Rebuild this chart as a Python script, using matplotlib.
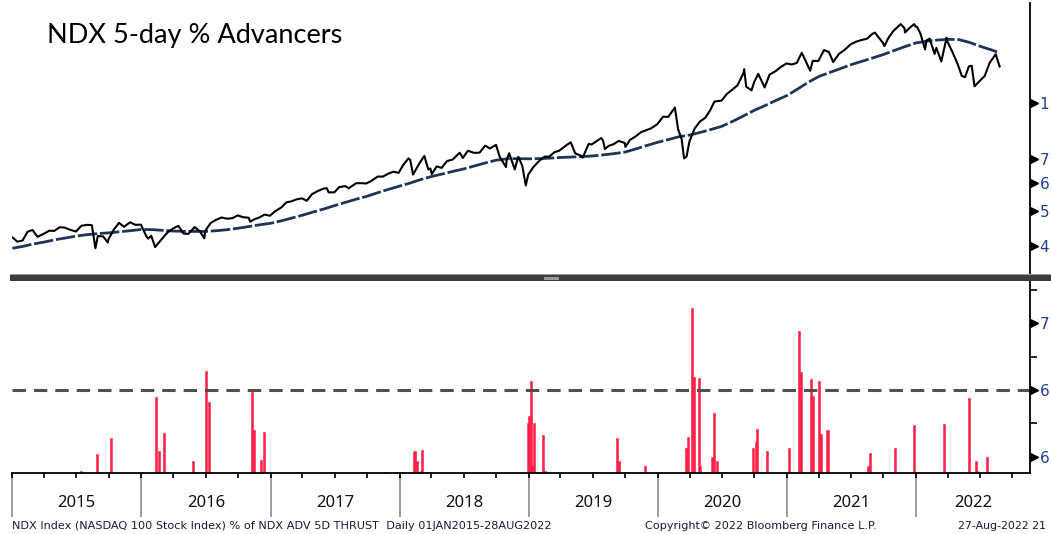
import matplotlib.pyplot as plt
import matplotlib.dates as mdates
import pandas as pd
from matplotlib.patches import Rectangle

# NDX close (approx.)
px_dates = [
    '2015-01-02', '2015-01-15', '2015-01-30', '2015-02-13', '2015-02-27', '2015-03-13', '2015-03-31',
    '2015-04-15', '2015-04-30', '2015-05-15', '2015-05-29', '2015-06-15', '2015-06-30', '2015-07-15',
    '2015-07-31', '2015-08-14', '2015-08-24', '2015-08-31', '2015-09-15', '2015-09-28', '2015-09-30',
    '2015-10-15', '2015-10-30', '2015-11-13', '2015-11-30', '2015-12-15', '2015-12-31',
    '2016-01-15', '2016-01-20', '2016-01-29', '2016-02-09', '2016-02-29', '2016-03-15', '2016-03-31',
    '2016-04-15', '2016-04-29', '2016-05-13', '2016-05-31', '2016-06-15', '2016-06-27', '2016-06-30',
    '2016-07-15', '2016-07-29', '2016-08-15', '2016-08-31', '2016-09-15', '2016-09-30', '2016-10-14',
    '2016-10-31', '2016-11-04', '2016-11-15', '2016-11-30', '2016-12-15', '2016-12-30',
    '2017-01-13', '2017-01-31', '2017-02-15', '2017-02-28', '2017-03-15', '2017-03-31', '2017-04-13',
    '2017-04-28', '2017-05-15', '2017-05-31', '2017-06-09', '2017-06-14', '2017-06-30', '2017-07-14',
    '2017-07-31', '2017-08-10', '2017-08-31', '2017-09-15', '2017-09-29', '2017-10-13', '2017-10-31',
    '2017-11-15', '2017-11-30', '2017-12-15', '2017-12-29',
    '2018-01-12', '2018-01-26', '2018-01-31', '2018-02-08', '2018-02-28', '2018-03-12', '2018-03-23',
    '2018-03-29', '2018-04-02', '2018-04-16', '2018-04-30', '2018-05-15', '2018-05-31', '2018-06-20',
    '2018-06-29', '2018-07-13', '2018-07-31', '2018-08-15', '2018-08-31', '2018-09-14', '2018-09-28',
    '2018-10-01', '2018-10-11', '2018-10-29', '2018-10-31', '2018-11-07', '2018-11-23', '2018-11-30',
    '2018-12-03', '2018-12-14', '2018-12-24', '2018-12-31',
    '2019-01-15', '2019-01-31', '2019-02-15', '2019-02-28', '2019-03-15', '2019-03-29', '2019-04-15',
    '2019-04-30', '2019-05-13', '2019-05-31', '2019-06-03', '2019-06-20', '2019-06-28', '2019-07-26',
    '2019-07-31', '2019-08-05', '2019-08-15', '2019-08-30', '2019-09-13', '2019-09-30', '2019-10-02',
    '2019-10-15', '2019-10-31', '2019-11-15', '2019-11-29', '2019-12-13', '2019-12-31',
    '2020-01-17', '2020-01-31', '2020-02-19', '2020-02-28', '2020-03-09', '2020-03-16', '2020-03-23',
    '2020-03-31', '2020-04-15', '2020-04-30', '2020-05-15', '2020-05-29', '2020-06-10', '2020-06-30',
    '2020-07-15', '2020-07-31', '2020-08-14', '2020-08-31', '2020-09-02', '2020-09-08', '2020-09-23',
    '2020-09-30', '2020-10-12', '2020-10-30', '2020-11-13', '2020-11-30', '2020-12-15', '2020-12-31',
    '2021-01-15', '2021-01-29', '2021-02-12', '2021-02-26', '2021-03-08', '2021-03-15', '2021-03-31',
    '2021-04-16', '2021-04-30', '2021-05-12', '2021-05-28', '2021-06-15', '2021-06-30', '2021-07-15',
    '2021-07-30', '2021-08-16', '2021-08-31', '2021-09-07', '2021-09-30', '2021-10-04', '2021-10-15',
    '2021-10-29', '2021-11-19', '2021-11-30', '2021-12-01', '2021-12-15', '2021-12-27', '2021-12-31',
    '2022-01-04', '2022-01-14', '2022-01-27', '2022-01-31', '2022-02-09', '2022-02-23', '2022-02-28',
    '2022-03-14', '2022-03-29', '2022-03-31', '2022-04-14', '2022-04-29', '2022-05-11', '2022-05-20',
    '2022-05-31', '2022-06-08', '2022-06-16', '2022-06-30', '2022-07-15', '2022-07-29', '2022-08-15',
    '2022-08-26',
]
px_close = [
    4230, 4120, 4151, 4390, 4441, 4250, 4334,
    4420, 4415, 4520, 4508, 4440, 4397, 4560,
    4588, 4580, 3950, 4274, 4260, 4100, 4182,
    4450, 4648, 4530, 4665, 4590, 4593,
    4270, 4200, 4279, 3980, 4202, 4370, 4484,
    4560, 4341, 4330, 4523, 4400, 4210, 4418,
    4640, 4730, 4810, 4771, 4790, 4875, 4820,
    4801, 4680, 4750, 4810, 4900, 4864,
    5000, 5128, 5300, 5330, 5400, 5436, 5350,
    5584, 5700, 5788, 5800, 5650, 5647, 5840,
    5880, 5800, 5988, 5990, 5979, 6080, 6248,
    6250, 6367, 6450, 6397,
    6750, 7022, 6950, 6330, 6854, 7130, 6540,
    6581, 6350, 6670, 6606, 6900, 6967, 7280,
    7040, 7370, 7272, 7280, 7614, 7480, 7627,
    7650, 7100, 6640, 6967, 7250, 6540, 6949,
    7090, 6700, 5900, 6330,
    6650, 6906, 7100, 7097, 7300, 7378, 7600,
    7781, 7250, 7127, 7050, 7700, 7672, 8000,
    7848, 7450, 7600, 7692, 7850, 7750, 7550,
    7900, 8083, 8300, 8404, 8500, 8733,
    9170, 9150, 9718, 8462, 7950, 7020, 7100,
    7813, 8500, 8890, 9100, 9555, 10100, 10157,
    10600, 10905, 11200, 12111, 12420, 11100, 10850,
    11418, 12060, 11052, 12000, 12268, 12600, 12888,
    12800, 12925, 13800, 12909, 12300, 13100, 13091,
    14040, 13861, 13000, 13687, 14100, 14555, 14800,
    14959, 15100, 15582, 15700, 14690, 14400, 15150,
    15850, 16573, 16135, 15700, 16200, 16570, 16320,
    16300, 15600, 14100, 14930, 15100, 13700, 14237,
    13050, 15200, 14839, 13900, 12855, 11900, 11800,
    12643, 12700, 11130, 11504, 11900, 12947, 13670,
    12640,
]

# 200-day moving average, first of each month
ma_dates = list(pd.date_range('2015-01-01', '2022-08-01', freq='MS')) + [pd.Timestamp('2022-08-26')]
ma_vals = [
    3950, 4000, 4060, 4110, 4170, 4220, 4270, 4310, 4340, 4360, 4390, 4420,
    4455, 4450, 4430, 4410, 4400, 4400, 4400, 4420, 4450, 4490, 4540, 4590,
    4635, 4710, 4790, 4880, 4980, 5080, 5190, 5300, 5410, 5510, 5640, 5760,
    5880, 6000, 6130, 6250, 6350, 6460, 6560, 6690, 6820, 6940, 7000, 7010,
    7000, 7010, 7030, 7060, 7080, 7100, 7130, 7180, 7240, 7310, 7460, 7620,
    7780, 7920, 8060, 8150, 8290, 8450, 8620, 8900, 9220, 9550, 9850, 10170,
    10490, 10950, 11400, 11850, 12150, 12460, 12780, 13060, 13350, 13640, 14000, 14350,
    14690, 14860, 14960, 15030, 15020, 14750, 14390, 14070, 13800,
]

# 5-day thrust readings (only the days that show a bar)
bar_dates = [
    '2015-07-14', '2015-08-28', '2015-10-07', '2016-02-12', '2016-02-19', '2016-03-04',
    '2016-05-27', '2016-06-02', '2016-07-01', '2016-07-11', '2016-11-09', '2016-11-14',
    '2016-12-05', '2016-12-12', '2017-11-22', '2018-02-12', '2018-02-20', '2018-03-02',
    '2018-03-06', '2018-12-31', '2019-01-03', '2019-01-08', '2019-01-11', '2019-01-17',
    '2019-01-31', '2019-02-11', '2019-02-15', '2019-09-09', '2019-09-13', '2019-11-27',
    '2020-03-23', '2020-03-27', '2020-04-07', '2020-04-13', '2020-04-28', '2020-05-01',
    '2020-05-20', '2020-06-03', '2020-06-08', '2020-06-16', '2020-09-28', '2020-10-05',
    '2020-10-09', '2020-11-05', '2021-01-08', '2021-02-04', '2021-02-09', '2021-03-10',
    '2021-03-15', '2021-04-01', '2021-04-06', '2021-04-26', '2021-08-20', '2021-08-25',
    '2021-11-04', '2021-12-27', '2022-03-21', '2022-05-31', '2022-06-21', '2022-06-24',
    '2022-07-21',
]
bar_vals = [
    58.93, 60.18, 61.42, 64.50, 60.43, 61.80,
    59.66, 58.84, 66.42, 64.10, 64.87, 61.98,
    59.75, 61.87, 58.84, 60.45, 59.66, 58.90,
    60.52, 62.50, 63.05, 65.67, 59.27, 62.50,
    58.84, 61.63, 58.90, 61.42, 59.66, 59.27,
    60.63, 61.50, 71.17, 65.95, 65.87, 59.27,
    58.84, 60.00, 63.30, 59.66, 60.63, 61.10,
    62.07, 60.45, 60.63, 69.42, 66.33, 65.85,
    64.57, 65.66, 61.70, 61.98, 59.27, 60.26,
    60.63, 62.36, 62.46, 64.40, 59.66, 58.90,
    59.97,
]
threshold = 65

# right-hand labels as they show on the (cropped) screenshot
top_ticks = [4000, 5000, 6000, 7000, 10000]
top_labels = ['4', '5', '6', '7', '1']
bot_ticks = [60, 65, 70]
bot_labels = ['6', '6', '7']
bot_minor = [62.5, 67.5, 72.5]
years = list(range(2015, 2023))

label_col = '#1f3f8f'
W, H = 1051, 534
fig = plt.figure(figsize=(W / 100, H / 100), dpi=100)

ax1 = fig.add_axes([12 / W, 1 - 275 / H, 1018 / W, 272 / H])
ax2 = fig.add_axes([12 / W, 1 - 473 / H, 1018 / W, 192 / H], sharex=ax1)

x0 = pd.Timestamp('2014-12-31')
x1 = pd.Timestamp('2022-11-20')

# --- upper panel: index and its 200d average
ax1.plot(pd.to_datetime(ma_dates), ma_vals, color='#1d3557', lw=2.0, dashes=(7, 1))
ax1.plot(pd.to_datetime(px_dates), px_close, color='black', lw=1.5)
ax1.set_yscale('log')
ax1.set_ylim(3329, 18970)
ax1.set_xlim(x0, x1)
for s in ['top', 'left', 'bottom']:
    ax1.spines[s].set_visible(False)
ax1.spines['right'].set_linewidth(1.3)
ax1.yaxis.tick_right()
ax1.yaxis.set_minor_locator(plt.NullLocator())
ax1.set_yticks(top_ticks)
ax1.set_yticklabels(top_labels)
ax1.tick_params(axis='y', length=0, pad=7, labelsize=11, labelcolor=label_col)
ax1.tick_params(axis='x', which='both', length=0, labelbottom=False)
ax1.plot([1.004] * len(top_ticks), top_ticks, transform=ax1.get_yaxis_transform(),
         marker='>', ms=6, color='black', ls='none', clip_on=False)

# --- lower panel: thrust bars
bd = pd.to_datetime(bar_dates)
ymin = 58.78
ax2.bar(bd, [v - ymin for v in bar_vals], bottom=ymin, width=6, color='#ff1f48',
        edgecolor='#ff1f48', lw=0.4)
ax2.axhline(threshold, color='#505050', lw=2.2, dashes=(4.4, 2.6))
ax2.set_ylim(ymin, 73.17)
ax2.set_xlim(x0, x1)
for s in ['top', 'left']:
    ax2.spines[s].set_visible(False)
ax2.spines['right'].set_linewidth(1.3)
ax2.spines['bottom'].set_linewidth(1.3)
ax2.yaxis.tick_right()
ax2.set_yticks(bot_ticks)
ax2.set_yticklabels(bot_labels)
ax2.set_yticks(bot_minor, minor=True)
ax2.tick_params(axis='y', which='major', length=0, pad=7, labelsize=11, labelcolor=label_col)
ax2.tick_params(axis='y', which='minor', length=5, width=1.2, color='black', direction='out')
ax2.plot([1.004] * len(bot_ticks), bot_ticks, transform=ax2.get_yaxis_transform(),
         marker='>', ms=6, color='black', ls='none', clip_on=False)

ax2.xaxis.set_major_locator(mdates.YearLocator())
ax2.xaxis.set_minor_locator(mdates.MonthLocator(bymonth=[1, 4, 7, 10]))
ax2.xaxis.remove_overlapping_locs = False
ax2.tick_params(axis='x', which='major', length=32, width=1.2, color='#8c8c8c', labelbottom=False)
ax2.tick_params(axis='x', which='minor', length=3.5, width=1.2, color='black')

for y in years:
    a = pd.Timestamp(f'{y}-01-01')
    b = min(pd.Timestamp(f'{y + 1}-01-01'), x1)
    ax2.text(a + (b - a) / 2, -0.156, str(y), transform=ax2.get_xaxis_transform(),
             ha='center', va='center', fontsize=12, family='Noto Sans', color='#111111')

# divider bar between panels
fig.patches.append(Rectangle((10 / W, 1 - 281 / H), 1 - 10 / W, 7 / H, transform=fig.transFigure,
                             facecolor='#3d3d3d', edgecolor='none'))
fig.patches.append(Rectangle((10 / W, 1 - 275 / H), 1 - 10 / W, 1 / H, transform=fig.transFigure,
                             facecolor='#9a9a9a', edgecolor='none'))
fig.patches.append(Rectangle((544 / W, 1 - 279.5 / H), 15 / W, 3 / H, transform=fig.transFigure,
                             facecolor='#9a9a9a', edgecolor='none'))

fig.text(47 / W, 1 - 35 / H, 'NDX 5-day % Advancers', fontsize=19.5, family='Lato',
         va='center', ha='left', color='black')

foot = dict(fontsize=8.1, color='#1a1a3a', va='center', family='DejaVu Sans')
fig.text(12 / W, 1 - 526 / H, 'NDX Index (NASDAQ 100 Stock Index) % of NDX ADV 5D THRUST  Daily 01JAN2015-28AUG2022', **foot)
fig.text(645 / W, 1 - 526 / H, 'Copyright\u00a9 2022 Bloomberg Finance L.P.', **foot)
fig.text(1046 / W, 1 - 526 / H, '27-Aug-2022 21', ha='right', **dict(foot, fontsize=7.9))

fig.savefig('out.png', dpi=100)
